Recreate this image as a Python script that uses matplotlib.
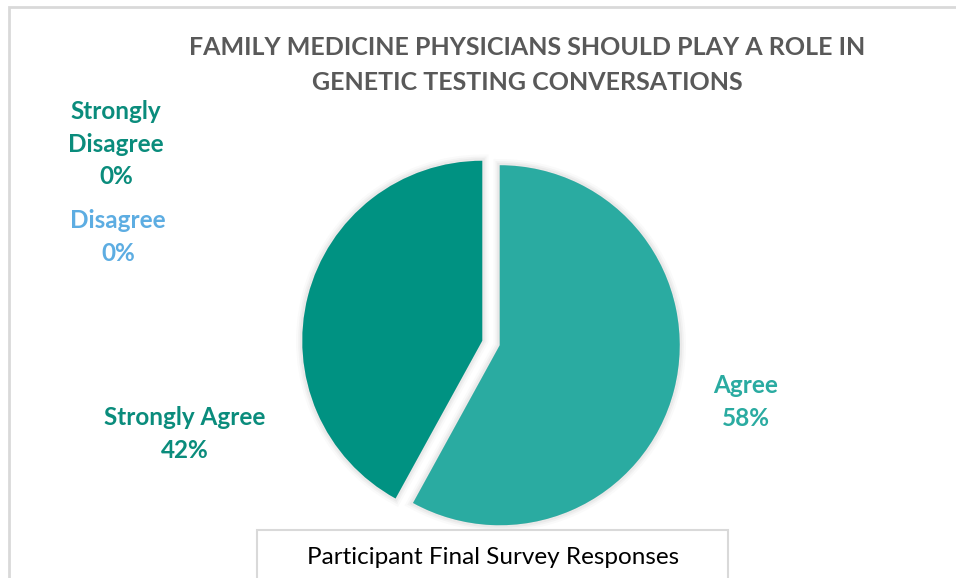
import matplotlib.pyplot as plt
from matplotlib.patches import Rectangle

# Data
categories = ["Agree", "Strongly Agree", "Strongly Disagree", "Disagree"]
shares = [58, 42, 0, 0]
slice_colors = ["#2AABA1", "#009282", "#00806F", "#5DADE2"]
label_colors = ["#2AABA1", "#0A8C7C", "#0A8C7C", "#5DADE2"]
title = "FAMILY MEDICINE PHYSICIANS SHOULD PLAY A ROLE IN\nGENETIC TESTING CONVERSATIONS"
legend_text = "Participant Final Survey Responses"

# label positions in pixels (x, y from top), Excel put them by hand
label_pos = {
    "Agree": (746, 402),
    "Strongly Agree": (185, 434),
    "Strongly Disagree": (116, 144),
    "Disagree": (118, 237),
}

W, H = 956, 578
fig = plt.figure(figsize=(W / 100, H / 100), dpi=100)

def px(x, y):
    return x / W, 1 - y / H

# chart frame (only left and top edge visible)
fig.patches.append(Rectangle(px(9, 600), (W + 20) / W, 593 / H, transform=fig.transFigure,
                             fill=False, edgecolor="#D9D9D9", linewidth=2))

# pie axes: center at (491, 343), radius 180 px
cx, cy, r = 491, 343, 180
half = r * 1.25
ax = fig.add_axes([(cx - half) / W, (H - cy - half) / H, 2 * half / W, 2 * half / H])
ax.set_xlim(-1.25, 1.25)
ax.set_ylim(-1.25, 1.25)
ax.set_aspect("equal")
ax.axis("off")

explode = [0.05 if v > 0 else 0 for v in shares]

# soft shadow around slices
for lw, a in [(9, 0.04), (6, 0.06), (3.5, 0.08)]:
    sh, _ = ax.pie(shares, explode=explode, startangle=90, counterclock=False,
                   colors=["#808080"] * len(shares), normalize=True,
                   wedgeprops=dict(edgecolor="#808080", linewidth=lw, alpha=a))
    for w, v in zip(sh, shares):
        if v == 0:
            w.set_visible(False)

wedges, _ = ax.pie(shares, explode=explode, startangle=90, counterclock=False,
                   colors=slice_colors, normalize=True,
                   wedgeprops=dict(edgecolor="none", linewidth=0))
for w, v in zip(wedges, shares):
    if v == 0:
        w.set_visible(False)

# title
fig.text(*px(527, 65), title, ha="center", va="center", fontsize=18,
         fontweight="bold", color="#595959", family="Lato", linespacing=1.6)

# data labels
for cat, v, col in zip(categories, shares, label_colors):
    x, y = label_pos[cat]
    txt = cat.replace("Strongly Disagree", "Strongly\nDisagree") + f"\n{v}%"
    fig.text(*px(x, y), txt, ha="center", va="center", fontsize=17.5,
             fontweight="bold", color=col, family="Lato", linespacing=1.5)

# bottom legend-like box
fig.patches.append(Rectangle(px(257, 600), (728 - 257) / W, 70 / H, transform=fig.transFigure,
                             fill=True, facecolor="white", edgecolor="#D9D9D9", linewidth=1.5))
fig.text(*px(493, 557), legend_text, ha="center", va="center", fontsize=17.5,
         color="#000000", family="Lato")

fig.savefig("out.png", dpi=100)
